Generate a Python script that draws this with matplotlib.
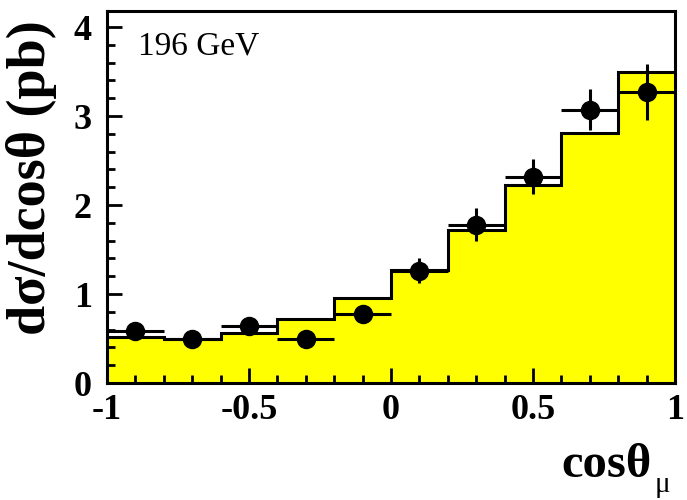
import matplotlib
matplotlib.use("Agg")
import matplotlib.pyplot as plt
from matplotlib.ticker import MultipleLocator, FixedLocator
import numpy as np

plt.rcParams['font.family'] = ['Liberation Serif', 'DejaVu Serif']
plt.rcParams['axes.unicode_minus'] = False

# Data
bin_edges = [-1.0, -0.8, -0.6, -0.4, -0.2, 0.0, 0.2, 0.4, 0.6, 0.8, 1.0]
mc_values = [0.52, 0.50, 0.56, 0.72, 0.95, 1.27, 1.72, 2.22, 2.81, 3.49]
data_x = [-0.9, -0.7, -0.5, -0.3, -0.1, 0.1, 0.3, 0.5, 0.7, 0.9]
data_y = [0.58, 0.50, 0.64, 0.49, 0.78, 1.26, 1.78, 2.32, 3.07, 3.27]
data_err = [0.08, 0.07, 0.08, 0.07, 0.09, 0.14, 0.19, 0.20, 0.23, 0.31]
x_half_width = 0.1
xtick_vals = [-1, -0.5, 0, 0.5, 1]
xtick_labels = ['-1', '-0.5', '0', '0.5', '1']
ytick_vals = [0, 1, 2, 3, 4]

fig = plt.figure(figsize=(6.87, 5.0), dpi=100)
ax = fig.add_axes([0.1557, 0.234, 0.8268, 0.744])

ax.stairs(mc_values, bin_edges, fill=True, color='#ffff00', zorder=1)
ax.stairs(mc_values, bin_edges, fill=False, color='black', linewidth=2.2, zorder=2, baseline=None)

ax.errorbar(data_x, data_y, xerr=x_half_width, yerr=data_err, fmt='o', color='black',
            markersize=13, elinewidth=2.2, capsize=0, zorder=3)

ax.set_xlim(-1, 1)
ax.set_ylim(0, 4.18)

ax.xaxis.set_major_locator(FixedLocator(xtick_vals))
ax.set_xticklabels(xtick_labels)
ax.xaxis.set_minor_locator(MultipleLocator(0.1))
ax.yaxis.set_major_locator(FixedLocator(ytick_vals))
ax.yaxis.set_minor_locator(MultipleLocator(0.2))

ax.tick_params(which='both', direction='in', top=False, right=False, width=2)
ax.tick_params(which='major', length=11, labelsize=26, pad=8)
ax.tick_params(which='minor', length=5.5)
for lbl in ax.get_xticklabels() + ax.get_yticklabels():
    lbl.set_fontweight('bold')
ax.tick_params(axis='y', pad=11)

for sp in ax.spines.values():
    sp.set_linewidth(2.2)
    sp.set_zorder(5)

ax.set_ylabel('dσ/dcosθ (pb)', fontsize=39, fontweight='bold')
ax.yaxis.set_label_coords(-0.088, 0.553)

fig.text(0.949, 0.046, 'cosθ', fontsize=35, fontweight='bold', ha='right', va='baseline')
fig.text(0.953, 0.016, 'μ', fontsize=21, ha='left', va='baseline')

ax.text(0.055, 0.905, '196 GeV', transform=ax.transAxes, fontsize=24, ha='left', va='center')

fig.savefig('out.png', dpi=100)
